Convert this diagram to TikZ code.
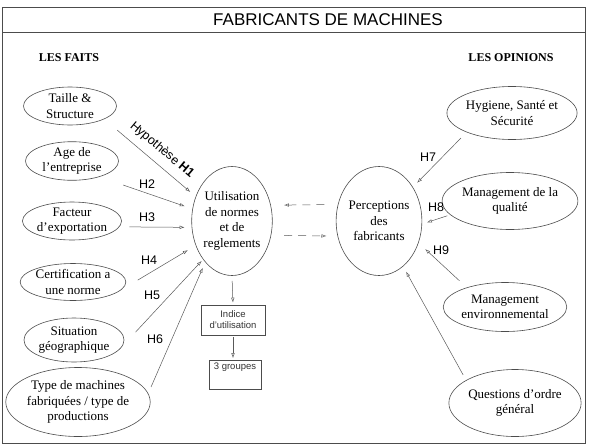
\documentclass[tikz,border=0pt]{standalone}
\usepackage{fontspec}
\setmainfont{Liberation Serif}
\setsansfont{Liberation Sans}
\usetikzlibrary{shapes.geometric,arrows.meta}

\begin{document}
\begin{tikzpicture}[x=1pt,y=-1pt,
      fait/.style={ellipse,draw=black!70,line width=0.6pt,inner sep=0pt,
        align=center,font=\fontsize{13}{15.5}\selectfont},
      cadre/.style={draw=black!70,line width=0.6pt,inner sep=2pt,
        align=center,text=black!80,font=\sffamily\fontsize{9.5}{11}\selectfont},
      fleche/.style={draw=black!65,line width=0.5pt,
        -{Latex[open,length=5pt,width=3.5pt]}},
      pointille/.style={fleche,dash pattern=on 8pt off 6pt},
      hyp/.style={font=\sffamily\fontsize{12.5}{14}\selectfont}]
      \useasboundingbox (0,0) rectangle (593,444);
      \draw[black!70,line width=0.9pt] (2,7) rectangle (585,443);
      \draw[black!70,line width=0.9pt] (2,32)--(585,32);
      \path (328,20) node[font=\sffamily\fontsize{17}{20}\selectfont] (titre) {FABRICANTS DE MACHINES};
      \path (69,58) node[font=\bfseries\fontsize{12}{14}\selectfont] (faits) {LES FAITS};
      \path (511,58) node[font=\bfseries\fontsize{12}{14}\selectfont] (opinions) {LES OPINIONS};
      % les faits
      \node[fait,minimum width=93,minimum height=38] (taille) at (70,106) {Taille \&\\Structure};
      \node[fait,minimum width=93,minimum height=38] (age) at (72,161) {Age de\\l'entreprise};
      \node[fait,minimum width=98,minimum height=38] (facteur) at (72,221) {Facteur\\d'exportation};
      \node[fait,minimum width=95,minimum height=37] (certif) at (73,282) {Certification a\\une norme};
      \node[fait,minimum width=95,minimum height=44] (situation) at (74,340) {Situation\\géographique};
      \node[fait,minimum width=136,minimum height=69] (typemach) at (78,402) {Type de machines\\fabriquées / type de\\productions};
      % centre
      \node[fait,minimum width=79,minimum height=109] (utilisation) at (232,221) {Utilisation\\de normes\\et de\\reglements};
      \node[fait,minimum width=78,minimum height=109] (perceptions) at (379,221) {Perceptions\\des\\fabricants};
      \node[cadre,minimum width=64,minimum height=30] (indice) at (233,320) {Indice\\d'utilisation};
      \node[cadre,minimum width=52,minimum height=29,text depth=17pt] (groupes) at (235,375) {3 groupes};
      % les opinions
      \node[fait,minimum width=117,minimum height=53] (hygiene) at (512,113) {Hygiene, Santé et\\Sécurité};
      \node[fait,minimum width=115,minimum height=57] (qualite) at (510,201) {Management de la\\qualité};
      \node[fait,minimum width=105,minimum height=49] (environ) at (505,307) {Management\\environnemental};
      \node[fait,minimum width=116,minimum height=67] (questions) at (515,403) {Questions d'ordre\\général};
      % hypotheses
      \draw[fleche,shorten <=17pt,shorten >=7pt] (taille.-21)--(utilisation.146);
      \draw[fleche,shorten <=25pt,shorten >=8pt] (age.-30)--(utilisation.163);
      \draw[fleche,shorten <=10pt,shorten >=7pt] (facteur.-7)--(utilisation.-171);
      \draw[fleche,shorten <=20pt,shorten >=9pt] (certif.-10)--(utilisation.-146);
      \draw[fleche,shorten <=20pt,shorten >=2pt] (situation.-8)--(utilisation.-127);
      \draw[fleche,shorten <=7pt,shorten >=6pt] (typemach.7)--(utilisation.-123);
      \draw[fleche,shorten <=8pt,shorten >=6pt] (hygiene.-157)--(perceptions.45);
      \draw[fleche,shorten <=3pt,shorten >=5pt] (qualite.-167)--(perceptions.-4);
      \draw[fleche,shorten <=10pt,shorten >=9pt] (environ.153)--(perceptions.-29);
      \draw[fleche,shorten <=6pt,shorten >=6pt] (questions.155)--(perceptions.-62);
      \draw[pointille,shorten <=13.5pt,shorten >=13pt] (perceptions.158)--(utilisation.22);
      \draw[pointille,shorten <=13pt,shorten >=11pt] (utilisation.-20)--(perceptions.-160);
      \draw[fleche,shorten <=5pt,shorten >=2pt] (utilisation.south)--(indice.north);
      \draw[fleche,shorten <=2pt,shorten >=2pt] (indice.south)--(indice.south |- groupes.north);
      \path (162,150) node[hyp,rotate=-40] (hun) {Hypothèse \textbf{H1}};
      \path (147,184) node[hyp] (hdeux) {H2};
      \path (147,217) node[hyp] (htrois) {H3};
      \path (149,260) node[hyp] (hquatre) {H4};
      \path (152,295) node[hyp] (hcinq) {H5};
      \path (155,339) node[hyp] (hsix) {H6};
      \path (428,157) node[hyp] (hsept) {H7};
      \path (436,207) node[hyp] (hhuit) {H8};
      \path (441,250) node[hyp] (hneuf) {H9};
     \end{tikzpicture}
\end{document}
